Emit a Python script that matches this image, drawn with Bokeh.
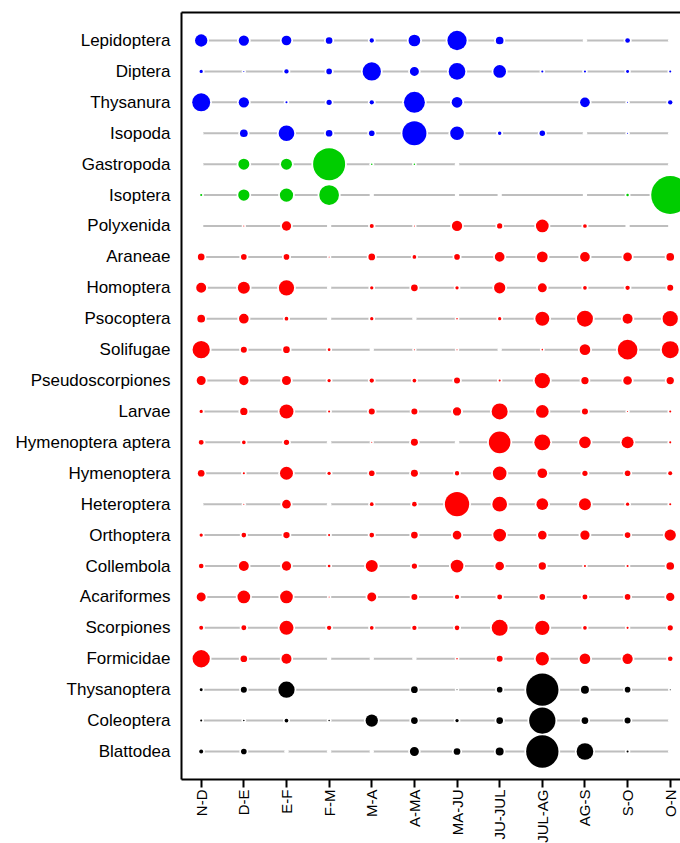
import math
from bokeh.plotting import figure
from bokeh.models import ColumnDataSource, FixedTicker, LinearAxis, Range1d
from bokeh.embed import file_html
from bokeh.resources import INLINE

NA = None

periods = ["N-D", "D-E", "E-F", "F-M", "M-A", "A-MA", "MA-JU", "JU-JUL",
           "JUL-AG", "AG-S", "S-O", "O-N"]

taxa = ["Lepidoptera", "Diptera", "Thysanura", "Isopoda", "Gastropoda", "Isoptera",
        "Polyxenida", "Araneae", "Homoptera", "Psocoptera", "Solifugae",
        "Pseudoscorpiones", "Larvae", "Hymenoptera aptera", "Hymenoptera",
        "Heteroptera", "Orthoptera", "Collembola", "Acariformes", "Scorpiones",
        "Formicidae", "Thysanoptera", "Coleoptera", "Blattodea"]

group = ["blue", "blue", "blue", "blue", "green", "green",
         "red", "red", "red", "red", "red", "red", "red", "red", "red",
         "red", "red", "red", "red", "red", "red",
         "black", "black", "black"]

# relative abundance per taxon and period (None = not sampled)
lepidoptera = [10.5, 7.3, 6.5, 3.1, 1.3, 9.5, 25.8, 4.1, NA, 0, 1.5, 0]
diptera = [0.75, 0.07, 1.3, 2.2, 23.2, 5.6, 19.3, 11.2, 0.3, 0.3, 0.6, 0.3]
thysanura = [22.4, 7.3, 0.3, 1.9, 1.3, 30.5, 7.9, NA, NA, 6.5, 0.07, 1.3]
isopoda = [0, 4.1, 17.1, 3.1, 2.2, 39.9, 13.0, 0.85, 2.1, 0, 0.07, 0]
gastropoda = [0, 8.4, 8.4, 70.9, 0.16, 0.16, 0, NA, NA, NA, NA, 0]
isoptera = [0.3, 8.8, 12.2, 26.9, 0, NA, 0, 0, NA, 0, 0.43, 100.0]
polyxenida = [0, 0.07, 6.0, 0, 1.1, 0.07, 7.3, 1.9, 11.2, 0.95, 0, 0]
araneae = [3.1, 2.2, 2.2, 0.07, 3.1, 0.95, 2.2, 6.5, 7.9, 6.5, 5.2, 4.1]
homoptera = [6.9, 10.0, 16.2, 0, 0.75, 3.1, 0.75, 8.8, 5.6, 0.95, 1.3, 2.5]
psocoptera = [4.1, 6.5, 0.95, 0, 0.75, 0, 0.16, 0.75, 13.6, 17.7, 6.9, 16.2]
solifugae = [20.7, 2.5, 3.1, 0.5, 0, 0.07, 0.07, 0, 0.16, 7.9, 26.9, 20.0]
pseudoscorpiones = [5.6, 6.0, 5.6, 0.75, 1.3, 0.95, 2.5, 0.3, 16.2, 3.7, 5.2, 3.7]
larvae = [0.75, 3.7, 13.6, 0.3, 2.5, 2.5, 4.8, 17.7, 11.2, 2.5, 0.07, 0.3]
hymenoptera_aptera = [1.7, 0.95, 1.9, 0, 0.07, 3.4, 0, 32.6, 17.7, 9.5, 10.0, 0.3]
hymenoptera = [3.1, 0.3, 11.7, 0.75, 2.2, 3.4, 1.3, 13.0, 6.5, 1.9, 2.2, 1.1]
heteroptera = [0, 0.07, 5.2, 0, 0.95, 1.5, 40.9, 15.0, 9.5, 10.0, 0.75, 0.3]
orthoptera = [0.75, 1.5, 2.75, 0.3, 1.5, 3.1, 5.2, 11.2, 5.2, 6.0, 2.2, 8.8]
collembola = [1.5, 6.9, 6.0, 0.5, 10.0, 1.9, 11.2, 5.2, 3.7, 0.3, 0.3, 4.1]
acariformes = [5.6, 11.2, 11.2, 0.07, 5.6, 2.5, 1.3, 1.7, 2.2, 1.7, 2.2, 4.8]
scorpiones = [1.1, 1.7, 13.6, 1.3, 0.95, 1.3, 1.5, 17.7, 14.2, 0.95, 0.3, 1.9]
formicidae = [20.7, 3.1, 6.9, 0, 0, 0, 0.16, 2.5, 12.2, 7.9, 7.3, 1.5]
thysanoptera = [0.6, 2.5, 18.4, NA, NA, 3.1, 0.07, 2.2, 72.3, 4.4, 2.2, 0.07]
coleoptera = [0.3, 0.16, 0.95, 0.16, 10.5, 3.1, 0.75, 3.1, 47.9, 3.1, 2.5, 0]
blattodea = [1.1, 2.2, 0, 0, 0, 5.6, 3.1, 4.4, 72.3, 19.3, 0.3, 0]

values = [lepidoptera, diptera, thysanura, isopoda, gastropoda, isoptera,
          polyxenida, araneae, homoptera, psocoptera, solifugae,
          pseudoscorpiones, larvae, hymenoptera_aptera, hymenoptera,
          heteroptera, orthoptera, collembola, acariformes, scorpiones,
          formicidae, thysanoptera, coleoptera, blattodea]

palette = {"blue": "#0000FF", "green": "#00CD00", "red": "#FF0000", "black": "#000000"}

FONT = "Liberation Sans"
SCALE = 3.8  # px of diameter per sqrt(unit)
n = len(taxa)

p = figure(frame_width=499, frame_height=767,
           x_range=Range1d(-0.462, 11.241), y_range=Range1d(-0.906, n - 1 + 0.906),
           output_backend="svg", toolbar_location=None,
           min_border_left=181, min_border_right=0, min_border_top=12,
           min_border_bottom=0, background_fill_color="white",
           border_fill_color="white")
p.outline_line_color = None
p.xgrid.visible = False
p.ygrid.visible = False

# grey lines
xs_lines, ys_lines = [], []
for i, row in enumerate(values):
    yv = n - 1 - i
    xs_lines.append(list(range(len(periods))))
    ys_lines.append([yv] * len(periods))
p.multi_line(xs=xs_lines, ys=ys_lines, line_color="#BEBEBE", line_width=2)

# points
px, py, sz, gap, col = [], [], [], [], []
for i, row in enumerate(values):
    yv = n - 1 - i
    for j, v in enumerate(row):
        if v is None:
            continue
        d = SCALE * math.sqrt(v)
        px.append(j)
        py.append(yv)
        sz.append(d)
        gap.append(max(d + 3.4, 4.5))
        col.append(palette[group[i]])

src = ColumnDataSource(dict(x=px, y=py, size=sz, gap=gap, color=col))
p.scatter(x="x", y="y", size="gap", source=src, marker="circle",
          fill_color="white", line_color=None)
p.scatter(x="x", y="y", size="size", source=src, marker="circle",
          fill_color="color", line_color=None)

# x axis
xa = p.xaxis[0]
xa.ticker = FixedTicker(ticks=list(range(len(periods))))
xa.major_label_overrides = {i: lab for i, lab in enumerate(periods)}
xa.major_label_orientation = math.pi / 2
xa.major_label_text_font = FONT
xa.major_label_text_font_size = "15px"
xa.major_label_text_color = "black"
xa.major_tick_out = 8
xa.major_tick_in = 0
xa.major_tick_line_width = 2
xa.major_tick_line_color = "black"
xa.minor_tick_line_color = None
xa.axis_line_width = 2
xa.axis_line_color = "black"
xa.major_label_standoff = 2

# y axis
ya = p.yaxis[0]
ya.ticker = FixedTicker(ticks=list(range(n)))
ya.major_label_overrides = {n - 1 - i: lab for i, lab in enumerate(taxa)}
ya.major_label_text_font = FONT
ya.major_label_text_font_size = "17px"
ya.major_label_text_color = "black"
ya.major_tick_line_color = None
ya.major_tick_out = 0
ya.major_tick_in = 0
ya.minor_tick_line_color = None
ya.axis_line_width = 2
ya.axis_line_color = "black"
ya.major_label_standoff = 11

# top border
top = LinearAxis(ticker=FixedTicker(ticks=[]), axis_line_width=2, axis_line_color="black",
                 major_tick_line_color=None, minor_tick_line_color=None,
                 major_label_text_font_size="0px")
p.add_layout(top, "above")

open("out.html", "w").write(file_html(p, INLINE))
